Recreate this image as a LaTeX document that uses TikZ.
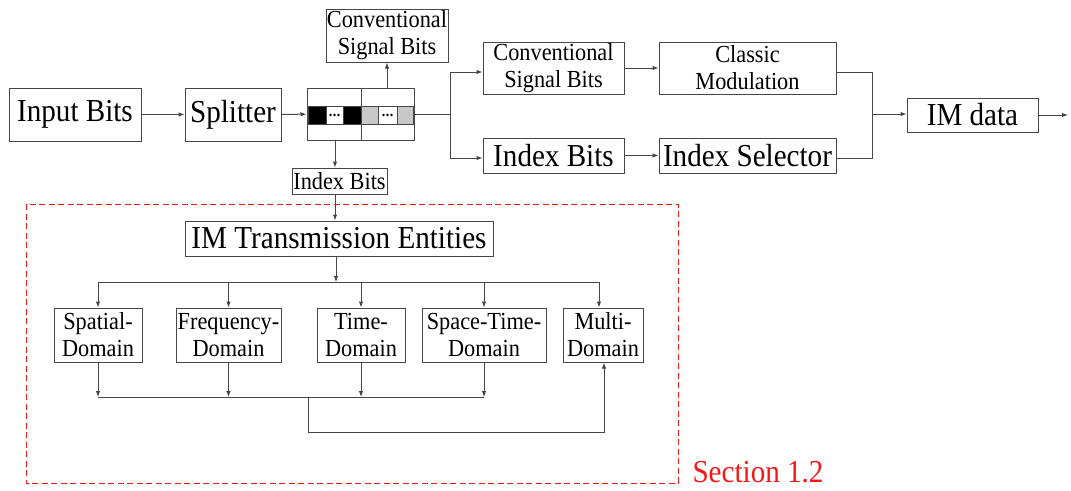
\documentclass[tikz,border=0pt]{standalone}
\usepackage{fontspec}
\setmainfont{Liberation Serif}[FakeStretch=0.91]
\usetikzlibrary{arrows.meta,calc}
\definecolor{ln}{RGB}{70,70,70}
\definecolor{secred}{RGB}{240,25,25}
\definecolor{cellgray}{RGB}{200,200,200}
\tikzset{
  big/.style={font=\fontsize{32}{37}\selectfont},
  small/.style={font=\fontsize{24.5}{27}\selectfont},
  blk/.style={draw=ln, line width=1pt, inner sep=0pt, align=center, text=black},
  arr/.style={draw=ln, line width=1pt, -{Latex[length=6pt,width=4.5pt]}},
  wire/.style={draw=ln, line width=1pt},
  cell/.style={draw=ln, line width=0.8pt},
}
\begin{document}
\begin{tikzpicture}[x=1pt,y=-1pt]
\useasboundingbox (0,0) rectangle (1071,490);

% top row
\node[blk,big,minimum width=132pt,minimum height=53pt] (inbits) at (75,114.5) {Input Bits};
\node[blk,big,minimum width=96pt,minimum height=53pt] (split) at (233,114.5) {Splitter};
\node[blk,minimum width=107pt,minimum height=52pt] (buf) at (360.5,114) {};
\node[blk,small,minimum width=122pt,minimum height=53pt] (convtop) at (387,35.5) {Conventional\\Signal Bits};
\node[blk,small,minimum width=95pt,minimum height=26pt] (idxsmall) at (339.5,181) {Index Bits};

% buffer contents: black block, grey block
\draw[wire] (361,88) -- (361,140);
\filldraw[cell,fill=black] (308,106) rectangle (326,124);
\filldraw[cell,fill=white] (326,106) rectangle (343,124);
\filldraw[cell,fill=black] (343,106) rectangle (361,124);
\filldraw[cell,fill=cellgray] (361,106) rectangle (378,124);
\filldraw[cell,fill=white] (378,106) rectangle (397,124);
\filldraw[cell,fill=cellgray] (397,106) rectangle (413,124);
\foreach \cx in {334.5,387.5}{
  \foreach \dx in {-4,0,4}{\fill[black] (\cx+\dx,115) circle (1.3pt);}
}

% right branch
\node[blk,small,minimum width=141pt,minimum height=52pt] (conv) at (553.5,68) {Conventional\\Signal Bits};
\node[blk,big,minimum width=141pt,minimum height=35pt] (idx) at (553.5,155.5) {Index Bits};
\node[blk,small,minimum width=177pt,minimum height=52pt] (classic) at (747.5,68) {Classic\\Modulation};
\node[blk,big,minimum width=177pt,minimum height=35pt] (sel) at (747.5,155.5) {Index Selector};
\node[blk,big,minimum width=131pt,minimum height=34pt] (imdata) at (972.5,115) {IM data};

\draw[arr] (inbits) -- (split);
\draw[arr] (split) -- (buf);
\draw[arr] (convtop.south |- buf.north) -- (convtop.south);
\coordinate (bufdn) at (335,140);
\draw[arr] (bufdn) -- (bufdn |- idxsmall.north);

\coordinate (fork) at (450,114);
\draw[wire] (buf.east) -- (fork);
\draw[arr] (fork) |- ([yshift=-4pt]conv.west);
\draw[arr] (fork) |- ([yshift=-2.5pt]idx.west);
\draw[arr] (conv) -- (classic);
\draw[arr] (idx) -- (sel);
\coordinate (mrg) at (872,114);
\draw[wire] ([yshift=-4pt]classic.east) -| (mrg);
\draw[wire] ([yshift=-2.5pt]sel.east) -| (mrg);
\draw[arr] (mrg) -- (mrg -| imdata.west);
\coordinate (out) at (1068,115);
\draw[arr] (imdata.east) -- (out);

% IM transmission entities section
\draw[secred, line width=1pt, dash pattern=on 6pt off 3.5pt] (26,204) rectangle (678,483);
\node[text=secred,big,anchor=base west] (sec) at (689,482) {Section 1.2};

\node[blk,big,minimum width=308pt,minimum height=35pt] (imte) at (339,238.5) {IM Transmission Entities};
\draw[arr] (idxsmall.south -| bufdn) -- (imte.north -| bufdn);

\node[blk,small,minimum width=88pt,minimum height=54pt] (spatial) at (98,335) {Spatial-\\Domain};
\node[blk,small,minimum width=105pt,minimum height=54pt] (freq) at (228.5,335) {Frequency-\\Domain};
\node[blk,small,minimum width=88pt,minimum height=54pt] (time) at (361,335) {Time-\\Domain};
\node[blk,small,minimum width=124pt,minimum height=54pt] (st) at (484,335) {Space-Time-\\Domain};
\node[blk,small,minimum width=80pt,minimum height=54pt] (multi) at (603,335) {Multi-\\Domain};

\coordinate (busL) at (98,282);
\coordinate (busC) at (336,282);
\coordinate (busR) at (599,282);
\draw[wire] (busL) -- (busR);
\draw[arr] (imte.south -| busC) -- (busC);
\foreach \n in {spatial,freq,time,st}{\draw[arr] (\n.north |- busL) -- (\n.north);}
\draw[arr] (busR) -- (busR |- multi.north);

\coordinate (lowL) at (98,397);
\coordinate (lowR) at (484,397);
\coordinate (lowM) at (308,397);
\coordinate (loop) at (604,432);
\foreach \n in {spatial,freq,time,st}{\draw[arr] (\n.south) -- (\n.south |- lowL);}
\draw[wire] (lowL) -- (lowR);
\draw[arr] (lowM) |- (loop) -- (loop |- multi.south);
\end{tikzpicture}
\end{document}
